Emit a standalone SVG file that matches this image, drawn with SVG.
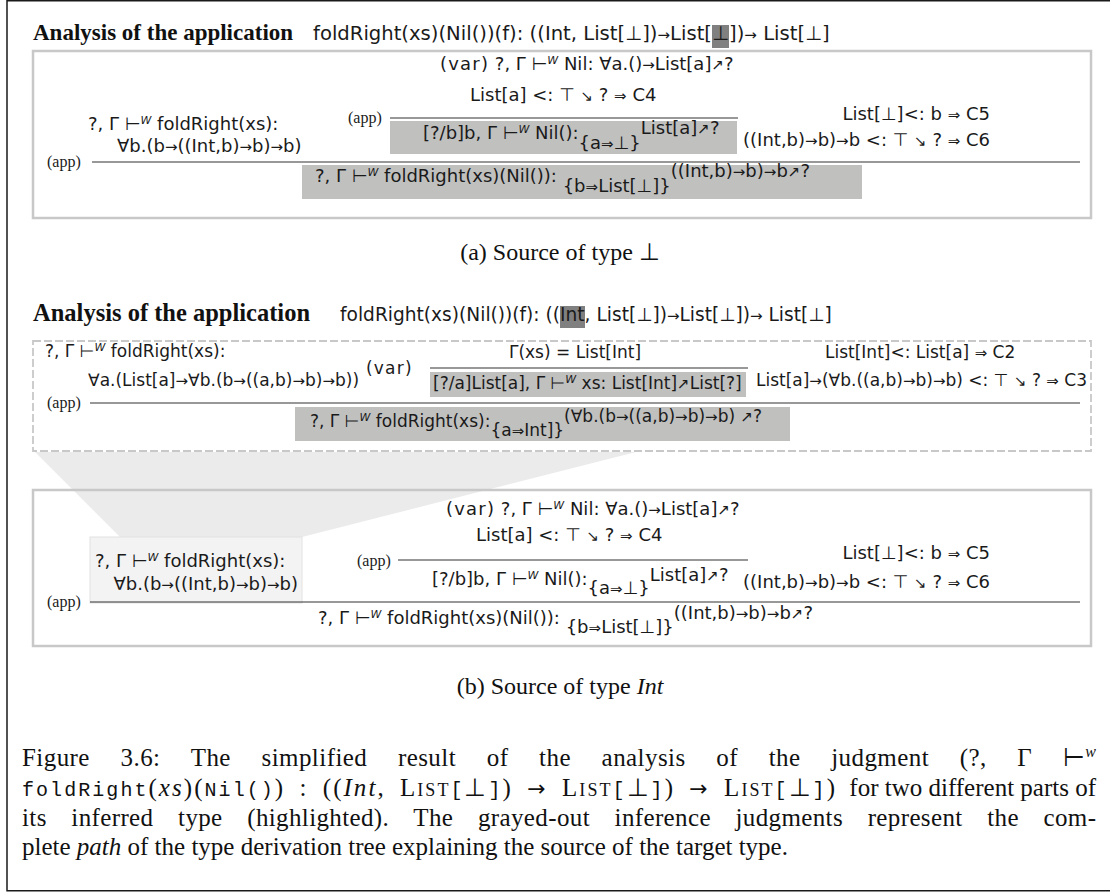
<svg xmlns="http://www.w3.org/2000/svg" width="1110" height="894" viewBox="0 0 1110 894">
<style>
  .m { font-family: "DejaVu Sans", sans-serif; font-size: 18px; fill: #1a1a1a; }
  .m17 { font-size: 17px; }
  .a { font-size: 15px; }
  .w { font-size: 11px; font-style: italic; }
  .rl { font-family: "Liberation Serif", serif; font-size: 16px; fill: #1a1a1a; }
  .vr { letter-spacing: 1.2px; }
  .ttl { font-family: "Liberation Serif", serif; font-size: 23px; font-weight: bold; fill: #111; }
  .box { fill: none; stroke: #c8c8c8; stroke-width: 2.5; }
  .dash { fill: none; stroke: #c8c8c8; stroke-width: 1.8; stroke-dasharray: 8 3; }
  .hl { fill: #c0c0bf; }
  .hd { fill: #808080; }
  .rule { stroke: #333; stroke-width: 1.2; }
  .cap { font-family: "Liberation Serif", serif; font-size: 24px; fill: #111; }
  .fc { font-family: "Liberation Serif", serif; font-size: 25px; fill: #111; }
  .tt { font-family: "Liberation Mono", monospace; font-size: 20px; }
  .ca { font-family: "DejaVu Sans", sans-serif; font-size: 22px; }
  .it { font-style: italic; }
  .sc { font-variant: small-caps; }
</style>

<rect x="7" y="0.75" width="1110" height="890" fill="#fff" stroke="#1a1a1a" stroke-width="1.5"/>

<!-- (a) source of type bottom -->
<g id="panel-a">
  <text class="ttl" x="33" y="40">Analysis of the application</text>
  <rect class="hd" x="712" y="25" width="17" height="23"/>
  <text class="m" x="313" y="40" style="font-size:19.6px">foldRight(xs)(Nil())(f): ((Int, List[⊥])<tspan class="a">→</tspan>List[⊥])<tspan class="a">→</tspan> List[⊥]</text>
  <rect class="box" x="33" y="51" width="1058" height="167"/>

  <g id="a-nil">
    <text class="m" x="440" y="70"><tspan class="vr">(var)</tspan> ?, Γ ⊢<tspan class="w" dy="-6">W</tspan><tspan dy="6"> Nil: ∀a.()<tspan class="a">→</tspan>List[a]<tspan class="a">↗</tspan>?</tspan></text>
    <text class="m" x="470" y="101">List[a] &lt;: ⊤ <tspan class="a">↘</tspan> ? <tspan class="a">⇒</tspan> C4</text>
  </g>
  <g id="a-nil-app">
    <rect class="hl" x="390" y="121" width="347" height="33"/>
    <text class="m" x="423" y="139">[?/b]b, Γ ⊢<tspan class="w" dy="-6">W</tspan><tspan dy="6"> Nil():</tspan><tspan dy="10">{a<tspan class="a">⇒</tspan>⊥}</tspan><tspan dy="-15">List[a]<tspan class="a">↗</tspan>?</tspan></text>
  </g>
  <g id="a-fold">
    <text class="m" x="88" y="130">?, Γ ⊢<tspan class="w" dy="-6">W</tspan><tspan dy="6"> foldRight(xs):</tspan></text>
    <text class="m" x="117" y="152">∀b.(b<tspan class="a">→</tspan>((Int,b)<tspan class="a">→</tspan>b)<tspan class="a">→</tspan>b)</text>
  </g>
  <g id="a-c5c6">
    <text class="m" x="990" y="120" text-anchor="end">List[⊥]&lt;: b <tspan class="a">⇒</tspan> C5</text>
    <text class="m" x="990" y="146" text-anchor="end">((Int,b)<tspan class="a">→</tspan>b)<tspan class="a">→</tspan>b &lt;: ⊤ <tspan class="a">↘</tspan> ? <tspan class="a">⇒</tspan> C6</text>
  </g>
  <g id="a-result">
    <rect class="hl" x="302" y="165" width="560" height="34"/>
    <text class="m" x="315" y="182">?, Γ ⊢<tspan class="w" dy="-6">W</tspan><tspan dy="6"> foldRight(xs)(Nil()): </tspan><tspan dy="10">{b<tspan class="a">⇒</tspan>List[⊥]}</tspan><tspan dy="-15">((Int,b)<tspan class="a">→</tspan>b)<tspan class="a">→</tspan>b<tspan class="a">↗</tspan>?</tspan></text>
  </g>
  <g id="a-rules">
    <text class="rl" x="348" y="123">(app)</text>
    <line class="rule" x1="390" y1="118" x2="738" y2="118"/>
    <text class="rl" x="47" y="167">(app)</text>
    <line class="rule" x1="92" y1="162" x2="1080" y2="162"/>
  </g>
  <text class="cap" x="560" y="260" text-anchor="middle">(a) Source of type ⊥</text>
</g>

<!-- (b) source of type Int -->
<g id="panel-b">
  <text class="ttl" x="33" y="321" style="font-size:24.5px">Analysis of the application</text>
  <rect class="hd" x="560" y="306" width="25" height="22"/>
  <text class="m" x="340" y="321" style="font-size:18.6px">foldRight(xs)(Nil())(f): ((Int, List[⊥])<tspan class="a">→</tspan>List[⊥])<tspan class="a">→</tspan> List[⊥]</text>

  <polygon points="35,452 636,452 302,537 120,537" fill="#ebebeb"/>
  <rect class="dash" x="33" y="341" width="1058" height="110"/>

  <g id="b-fold">
    <text class="m m17" x="45" y="357">?, Γ ⊢<tspan class="w" dy="-6">W</tspan><tspan dy="6"> foldRight(xs):</tspan></text>
    <text class="m m17" x="88" y="386">∀a.(List[a]<tspan class="a">→</tspan>∀b.(b<tspan class="a">→</tspan>((a,b)<tspan class="a">→</tspan>b)<tspan class="a">→</tspan>b))</text>
  </g>
  <g id="b-xs">
    <text class="m m17" x="575" y="358" text-anchor="middle">Γ(xs) = List[Int]</text>
    <rect class="hl" x="430" y="372" width="316" height="25"/>
    <text class="m m17" x="433" y="389">[?/a]List[a], Γ ⊢<tspan class="w" dy="-6">W</tspan><tspan dy="6">  xs: List[Int]<tspan class="a">↗</tspan>List[?]</tspan></text>
  </g>
  <g id="b-c2c3">
    <text class="m m17" x="825" y="358">List[Int]&lt;: List[a] <tspan class="a">⇒</tspan> C2</text>
    <text class="m m17" x="1087" y="386" text-anchor="end">List[a]<tspan class="a">→</tspan>(∀b.((a,b)<tspan class="a">→</tspan>b)<tspan class="a">→</tspan>b) &lt;: ⊤ <tspan class="a">↘</tspan> ? <tspan class="a">⇒</tspan> C3</text>
  </g>
  <g id="b-result">
    <rect class="hl" x="295" y="407" width="495" height="34"/>
    <text class="m m17" x="310" y="427">?, Γ ⊢<tspan class="w" dy="-6">W</tspan><tspan dy="6"> foldRight(xs):</tspan><tspan dy="9">{a<tspan class="a">⇒</tspan>Int]}</tspan><tspan dy="-14">(∀b.(b<tspan class="a">→</tspan>((a,b)<tspan class="a">→</tspan>b)<tspan class="a">→</tspan>b) <tspan class="a">↗</tspan>?</tspan></text>
  </g>
  <g id="b-rules">
    <text class="m m17 vr" x="366" y="374">(var)</text>
    <line class="rule" x1="430" y1="368" x2="748" y2="368"/>
    <text class="rl" x="47" y="408">(app)</text>
    <line class="rule" x1="90" y1="403" x2="1080" y2="403"/>
  </g>

  <rect class="box" x="33" y="490" width="1058" height="156"/>
  <g id="c-nil">
    <text class="m" x="446" y="515"><tspan class="vr">(var)</tspan> ?, Γ ⊢<tspan class="w" dy="-6">W</tspan><tspan dy="6"> Nil: ∀a.()<tspan class="a">→</tspan>List[a]<tspan class="a">↗</tspan>?</tspan></text>
    <text class="m" x="476" y="541">List[a] &lt;: ⊤ <tspan class="a">↘</tspan> ? <tspan class="a">⇒</tspan> C4</text>
  </g>
  <g id="c-nil-app">
    <text class="m" x="432" y="585">[?/b]b, Γ ⊢<tspan class="w" dy="-6">W</tspan><tspan dy="6"> Nil():</tspan><tspan dy="9">{a<tspan class="a">⇒</tspan>⊥}</tspan><tspan dy="-13">List[a]<tspan class="a">↗</tspan>?</tspan></text>
  </g>
  <g id="c-fold">
    <rect x="90" y="537" width="212" height="66" fill="#f3f3f3" stroke="#e2e2e2" stroke-width="1"/>
    <text class="m" x="95" y="567">?, Γ ⊢<tspan class="w" dy="-6">W</tspan><tspan dy="6"> foldRight(xs):</tspan></text>
    <text class="m" x="298" y="590" text-anchor="end">∀b.(b<tspan class="a">→</tspan>((Int,b)<tspan class="a">→</tspan>b)<tspan class="a">→</tspan>b)</text>
  </g>
  <g id="c-c5c6">
    <text class="m" x="990" y="559" text-anchor="end">List[⊥]&lt;: b <tspan class="a">⇒</tspan> C5</text>
    <text class="m" x="990" y="588" text-anchor="end">((Int,b)<tspan class="a">→</tspan>b)<tspan class="a">→</tspan>b &lt;: ⊤ <tspan class="a">↘</tspan> ? <tspan class="a">⇒</tspan> C6</text>
  </g>
  <g id="c-result">
    <text class="m" x="318" y="624">?, Γ ⊢<tspan class="w" dy="-6">W</tspan><tspan dy="6"> foldRight(xs)(Nil()): </tspan><tspan dy="9">{b<tspan class="a">⇒</tspan>List[⊥]}</tspan><tspan dy="-14">((Int,b)<tspan class="a">→</tspan>b)<tspan class="a">→</tspan>b<tspan class="a">↗</tspan>?</tspan></text>
  </g>
  <g id="c-rules">
    <text class="rl" x="357" y="566">(app)</text>
    <line class="rule" x1="398" y1="560" x2="748" y2="560"/>
    <text class="rl" x="47" y="607">(app)</text>
    <line class="rule" x1="90" y1="602" x2="1080" y2="602"/>
  </g>
  <text class="cap" x="560" y="694" text-anchor="middle">(b) Source of type <tspan class="it">Int</tspan></text>
</g>

<g id="caption">
  <text class="fc" x="22" y="766" textLength="1074" lengthAdjust="spacing" style="word-spacing:24px">Figure 3.6: The simplified result of the analysis of the judgment (?, Γ ⊢<tspan class="it" font-size="16" dy="-9">w</tspan></text>
  <text class="fc" x="22" y="796" textLength="813" lengthAdjust="spacing" style="word-spacing:6px"><tspan class="tt">foldRight</tspan>(<tspan class="it">xs</tspan>)(<tspan class="tt">Nil()</tspan>) : ((<tspan class="it">Int</tspan>, <tspan class="sc">List</tspan><tspan class="tt">[</tspan>⊥<tspan class="tt">]</tspan>) <tspan class="ca">→</tspan> <tspan class="sc">List</tspan><tspan class="tt">[</tspan>⊥<tspan class="tt">]</tspan>) <tspan class="ca">→</tspan> <tspan class="sc">List</tspan><tspan class="tt">[</tspan>⊥<tspan class="tt">]</tspan>)</text>
  <text class="fc" x="1096" y="796" text-anchor="end">for two different parts of</text>
  <text class="fc" x="22" y="826" textLength="1074" lengthAdjust="spacing" style="word-spacing:18px">its inferred type (highlighted). The grayed-out inference judgments represent the com-</text>
  <text class="fc" x="22" y="855">plete <tspan class="it">path</tspan> of the type derivation tree explaining the source of the target type.</text>
</g>
</svg>
